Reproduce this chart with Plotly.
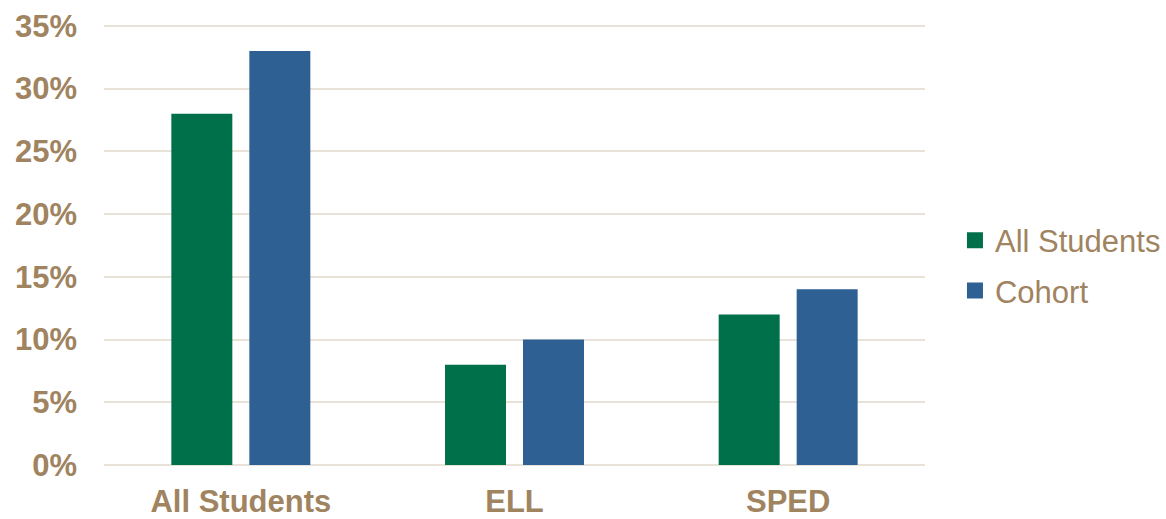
import plotly.graph_objects as go

categories = ["All Students", "ELL", "SPED"]
all_students = [0.28, 0.08, 0.12]
cohort = [0.33, 0.10, 0.14]
series_names = ["All Students", "Cohort"]
colors = ["#00704A", "#2E6094"]
tick_vals = [0, 0.05, 0.10, 0.15, 0.20, 0.25, 0.30, 0.35]

text_color = "#A0835F"
grid_color = "#E8E2D8"
font_family = "Liberation Sans, Arial, sans-serif"

fig = go.Figure()
for name, vals, col in zip(series_names, [all_students, cohort], colors):
    fig.add_trace(go.Bar(x=categories, y=vals, name=name, marker=dict(color=col, line=dict(width=0)),
                         showlegend=False))
for i, (name, col) in enumerate(zip(series_names, colors)):
    fig.add_trace(go.Scatter(x=[None], y=[None], mode="markers", name=name, legendgroup=f"g{i}",
                             marker=dict(symbol="square", size=16, color=col, line=dict(width=0))))

fig.update_layout(
    width=1166, height=519,
    margin=dict(l=104, r=241, t=24, b=54),
    paper_bgcolor="white", plot_bgcolor="white",
    barmode="group", bargap=0.43, bargroupgap=0.218,
    font=dict(family=font_family, color=text_color, size=31),
    legend=dict(x=0.819, xref="container", xanchor="left",
                y=0.4884, yref="container", yanchor="middle",
                font=dict(size=31, color=text_color, family=font_family),
                traceorder="grouped", tracegroupgap=7, itemwidth=30,
                bgcolor="rgba(0,0,0,0)"),
)
fig.update_xaxes(showgrid=False, showline=False, zeroline=False, automargin=False,
                 tickfont=dict(size=31, color=text_color, family=font_family, weight="bold"),
                 ticklabelstandoff=15)
fig.update_yaxes(range=[0, 0.3515], tickvals=tick_vals, tickformat=".0%", automargin=False,
                 showgrid=True, gridcolor=grid_color, gridwidth=2,
                 zeroline=True, zerolinecolor=grid_color, zerolinewidth=2,
                 showline=False,
                 tickfont=dict(size=31, color=text_color, family=font_family, weight="bold"),
                 ticklabelstandoff=26)

fig.write_html("out.html")
